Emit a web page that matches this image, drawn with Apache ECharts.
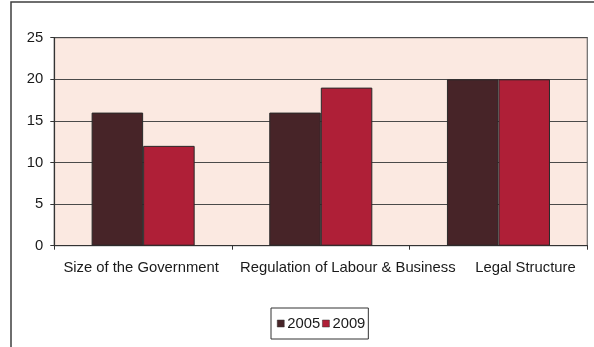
<!DOCTYPE html>
<html>
<head>
<meta charset="utf-8">
<script src="https://cdn.jsdelivr.net/npm/echarts@6/dist/echarts.min.js"></script>
<style>
  html, body { margin: 0; padding: 0; background: #ffffff; }
  #chart { width: 594px; height: 347px; }
</style>
</head>
<body>
<div id="chart"></div>
<script>
// Index scores by area, 2005 vs 2009
const categories = ['Size of the Government', 'Regulation of Labour & Business', 'Legal Structure'];
const seriesNames = ['2005', '2009'];
const values2005 = [16, 16, 20];
const values2009 = [12, 19, 20];
const yTicks = { min: 0, max: 25, interval: 5 };

const FONT = '"Liberation Sans", Arial, sans-serif';
const colors = ['#472428', '#AF1F37'];
// horizontal nudges for the category labels so the long names don't collide
const labelPads = [[0, 4, 0, 0], [0, 0, 0, 54], [0, 0, 0, 54]];

const chart = echarts.init(document.getElementById('chart'), null, { renderer: 'canvas' });

chart.setOption({
  backgroundColor: '#ffffff',
  animation: false,
  textStyle: { fontFamily: FONT },
  graphic: [{
    type: 'rect',
    shape: { x: 11, y: 2, width: 700, height: 500 },
    style: { fill: 'none', stroke: '#3f3f3f', lineWidth: 1.5 },
    z: 0,
    silent: true
  }],
  grid: {
    left: 54.3,
    top: 37.7,
    right: 6.7,
    bottom: 101.3,
    show: true,
    backgroundColor: '#FBE9E1',
    borderColor: '#6a6a6a',
    borderWidth: 1.2
  },
  legend: {
    left: 271,
    top: 308,
    orient: 'horizontal',
    itemWidth: 7,
    itemHeight: 7,
    itemGap: 2,
    icon: 'rect',
    padding: [8, 3, 8, 6],
    borderColor: '#333333',
    borderWidth: 1,
    backgroundColor: '#ffffff',
    textStyle: { fontFamily: FONT, fontSize: 14.8, color: '#1a1a1a', padding: [0, 0, 0, -2] },
    itemStyle: { borderColor: '#333333', borderWidth: 0.5 },
    data: seriesNames
  },
  xAxis: {
    type: 'category',
    data: categories.map((c, i) => ({ value: c, textStyle: { padding: labelPads[i] } })),
    boundaryGap: true,
    axisLine: { show: true, lineStyle: { color: '#333333', width: 1.2 } },
    axisTick: { show: true, length: 4, inside: false, alignWithLabel: false, lineStyle: { color: '#333333' } },
    axisLabel: { fontFamily: FONT, fontSize: 14.8, color: '#1a1a1a', margin: 15, interval: 0, hideOverlap: false },
    splitLine: { show: false }
  },
  yAxis: {
    type: 'value',
    min: yTicks.min,
    max: yTicks.max,
    interval: yTicks.interval,
    axisLine: { show: true, lineStyle: { color: '#333333', width: 1.2 } },
    axisTick: { show: true, length: 4, inside: false, lineStyle: { color: '#333333' } },
    axisLabel: { fontFamily: FONT, fontSize: 14.8, color: '#1a1a1a', margin: 11 },
    splitLine: { show: true, lineStyle: { color: '#4a4a4a', width: 1.2 } }
  },
  series: [
    {
      name: seriesNames[0],
      type: 'bar',
      data: values2005,
      barGap: '0%',
      barCategoryGap: '42%',
      itemStyle: { color: colors[0], borderColor: '#2a2a2a', borderWidth: 1 }
    },
    {
      name: seriesNames[1],
      type: 'bar',
      data: values2009,
      barGap: '0%',
      barCategoryGap: '42%',
      itemStyle: { color: colors[1], borderColor: '#2a2a2a', borderWidth: 1 }
    }
  ]
});
</script>
</body>
</html>
